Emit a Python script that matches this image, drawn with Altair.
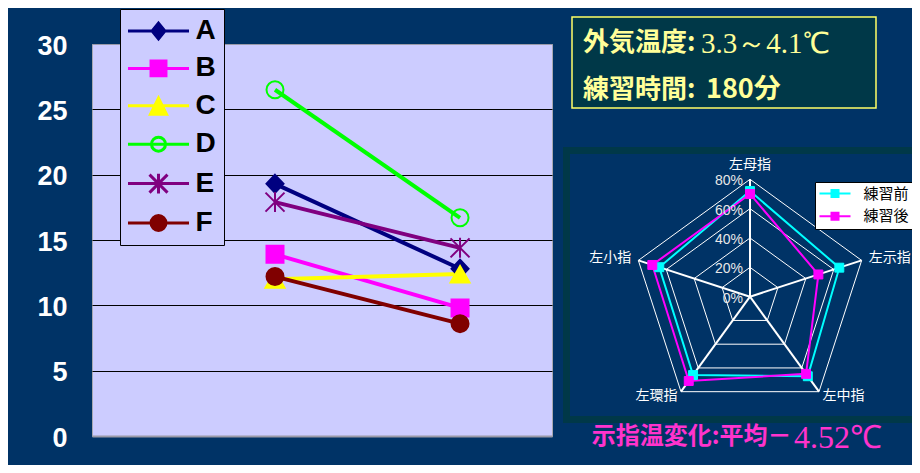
import altair as alt
import pandas as pd

# ---------------- data: line chart ----------------
series = ["A", "B", "C", "D", "E", "F"]
stages = ["練習前", "練習後"]
temp_before = [19.3, 13.9, 12.0, 26.5, 17.9, 12.2]
temp_after = [12.8, 9.8, 12.4, 16.7, 14.4, 8.6]
y_ticks = [0, 5, 10, 15, 20, 25, 30]

series_colors = ["#000080", "#FF00FF", "#FFFF00", "#00FF00", "#800080", "#800000"]
series_fills = ["#000080", "#FF00FF", "#FFFF00", "transparent", "transparent", "#800000"]

# ---------------- data: radar chart ----------------
fingers = ["左母指", "左示指", "左中指", "左環指", "左小指"]
radar_series = ["練習前", "練習後"]
ratio_before = [72, 64, 67, 66, 65]
ratio_after = [70, 49, 65, 71, 70]
radar_ticks = [0, 20, 40, 60, 80]
radar_colors = ["#00FFFF", "#FF00FF"]

# ---------------- texts ----------------
info_label_1 = "外気温度:"
info_value_1 = "3.3～4.1℃"
info_label_2 = "練習時間:"
info_value_2 = "180分"
result_label = "示指温変化:平均－"
result_value = "4.52℃"

NAVY = "#003366"
TEAL = "#003848"
CJK = "Noto Sans CJK JP"


def circ(cx, r):
    return f"M{cx + r},0 A{r},{r} 0 1 1 {cx - r},0 A{r},{r} 0 1 1 {cx + r},0 Z"


plot_paths = [
    "M0,-0.9L0.85,0L0,0.9L-0.85,0Z",
    "M-0.85,-0.85H0.85V0.85H-0.85Z",
    "M0,-0.8L0.95,0.85H-0.95Z",
    circ(0, 0.85),
    "M0,-1V1M-0.95,-0.95L0.95,0.95M-0.95,0.95L0.95,-0.95",
    circ(0, 0.85),
]
L = "M-3.39,0H3.39"
legend_paths = [
    L + "M0,-0.88L0.71,0L0,0.88L-0.71,0Z",
    L + "M-0.83,-0.83H0.83V0.83H-0.83Z",
    L + "M0,-0.85L0.89,0.95H-0.89Z",
    L + circ(0, 0.78),
    L + "M0,-1.1V1.1M-1,-1L1,1M-1,1L1,-1",
    L + circ(0, 0.83),
]

# ---------------- tables ----------------
rows = []
for s, b, a in zip(series, temp_before, temp_after):
    rows.append({"series": s, "stage": stages[0], "o": 0, "value": b})
    rows.append({"series": s, "stage": stages[1], "o": 1, "value": a})
line_df = pd.DataFrame(rows)

rrows = []
for s, vals in zip(radar_series, [ratio_before, ratio_after]):
    for k in range(6):
        rrows.append({"series": s, "k": k, "v": vals[k % 5]})
radar_df = pd.DataFrame(rrows)

ring_rows = []
for lv in radar_ticks[1:]:
    for k in range(6):
        ring_rows.append({"level": lv, "k": k})
ring_df = pd.DataFrame(ring_rows)
spoke_df = pd.DataFrame({"k": list(range(5)), "v": [radar_ticks[-1]] * 5})
tick_df = pd.DataFrame({"v": radar_ticks})
cat_df = pd.DataFrame({"finger": fingers, "k": list(range(5))})

# ---------------- line chart ----------------
xs = alt.X("o:Q", scale=alt.Scale(domain=[-0.989, 1.497], nice=False, zero=False), axis=None)
ys_axis = alt.Y(
    "value:Q",
    scale=alt.Scale(domain=[0, 30], nice=False),
    axis=alt.Axis(
        values=y_ticks, ticks=False, domain=False, title=None,
        labelColor="white", labelFont="Liberation Sans", labelFontWeight="bold",
        labelFontSize=27, labelPadding=25, labelOffset=2,
        gridColor={"condition": {"test": "datum.value === 0 || datum.value === 30", "value": "#9A9AA8"}, "value": "black"},
        gridWidth={"condition": {"test": "datum.value === 0", "value": 2}, "value": 1},
    ),
)
ys = alt.Y("value:Q", scale=alt.Scale(domain=[0, 30], nice=False), axis=None)

lines = alt.Chart(line_df).mark_line(strokeWidth=4).encode(
    x=xs, y=ys_axis,
    color=alt.Color("series:N", scale=alt.Scale(domain=series, range=series_colors), legend=None),
    order="o:Q",
)
points = alt.Chart(line_df).mark_point(size=400, strokeWidth=2, opacity=1).encode(
    x=xs, y=ys,
    shape=alt.Shape("series:N", scale=alt.Scale(domain=series, range=plot_paths), legend=None),
    stroke=alt.Stroke("series:N", scale=alt.Scale(domain=series, range=series_colors), legend=None),
    fill=alt.Fill("series:N", scale=alt.Scale(domain=series, range=series_fills), legend=None),
)

leg = alt.Legend(
    title=None, orient="none", legendX=28, legendY=-35,
    symbolSize=324, symbolStrokeWidth=3, symbolOffset=16.5, labelOffset=23,
    labelFont="Liberation Sans", labelFontSize=28, labelFontWeight="bold", labelColor="black",
    rowPadding=9.4, padding=8, fillColor="#CCCCFF", strokeColor="black",
)
legend_layer = alt.Chart(line_df).transform_calculate(key="datum.series").transform_filter("false").mark_point(
    opacity=1, strokeWidth=3
).encode(
    shape=alt.Shape("key:N", scale=alt.Scale(domain=series, range=legend_paths), legend=leg),
    stroke=alt.Stroke("key:N", scale=alt.Scale(domain=series, range=series_colors), legend=leg),
    fill=alt.Fill("key:N", scale=alt.Scale(domain=series, range=series_fills), legend=leg),
)

# ---------------- radar chart ----------------
rx = alt.Scale(domain=[-80, 80], range=[540.6, 775.4], nice=False, zero=False)
ry = alt.Scale(domain=[-80, 80], range=[370.1, 135.3], nice=False, zero=False)
RX = alt.X("px:Q", scale=rx, axis=None)
RY = alt.Y("py:Q", scale=ry, axis=None)

frame = alt.Chart(pd.DataFrame({"a": [0]})).mark_rect(fill=None, stroke=TEAL, strokeWidth=7).encode(
    x=alt.value(474.5), x2=alt.value(840), y=alt.value(106.5), y2=alt.value(375.5)
)

rings = alt.Chart(ring_df).transform_calculate(
    px="datum.level*sin(datum.k*2*PI/5)", py="datum.level*cos(datum.k*2*PI/5)"
).mark_line(color="white", strokeWidth=1).encode(x=RX, y=RY, detail="level:N", order="k:Q")

spokes = alt.Chart(spoke_df).transform_calculate(
    px="datum.v*sin(datum.k*2*PI/5)", py="datum.v*cos(datum.k*2*PI/5)", z="0"
).mark_rule(color="white", strokeWidth=2).encode(x=RX, y=RY, x2=alt.X2("z:Q"), y2=alt.Y2("z:Q"))

radar_base = alt.Chart(radar_df).transform_calculate(
    px="datum.v*sin(datum.k*2*PI/5)", py="datum.v*cos(datum.k*2*PI/5)"
)
radar_lines = radar_base.mark_line(strokeWidth=2).encode(
    x=RX, y=RY,
    stroke=alt.Stroke("series:N", scale=alt.Scale(domain=radar_series, range=radar_colors), legend=None),
    order="k:Q",
)
rleg = alt.Legend(
    title=None, orient="none", legendX=723, legendY=138,
    symbolType="M-3.1,0H3.1M-0.7,-0.7H0.7V0.7H-0.7Z", symbolSize=100, symbolStrokeWidth=2,
    symbolOffset=8.5, labelOffset=21, labelFont=CJK, labelFontSize=15, labelColor="black",
    rowPadding=6.7, padding=4, fillColor="white", strokeColor="black",
)
radar_points = radar_base.transform_filter("datum.k < 5").mark_point(
    shape="square", size=80, strokeWidth=1, opacity=1, filled=True
).encode(
    x=RX, y=RY,
    fill=alt.Fill("series:N", scale=alt.Scale(domain=radar_series, range=radar_colors), legend=rleg),
    stroke=alt.Stroke("series:N", scale=alt.Scale(domain=radar_series, range=radar_colors), legend=rleg),
)

tick_labels = alt.Chart(tick_df).transform_calculate(
    px="0", py="datum.v", t="datum.v + '%'"
).mark_text(align="right", baseline="middle", dx=-7, dy=2, font="Liberation Sans", fontSize=14, color="#E8E8E8").encode(
    x=RX, y=RY, text="t:N"
)

cat_base = alt.Chart(cat_df).transform_calculate(
    lr="datum.k == 0 ? 80 : ((datum.k == 2 || datum.k == 3) ? 84 : 85)",
    px="datum.lr*sin(datum.k*2*PI/5)", py="datum.lr*cos(datum.k*2*PI/5)",
)
cat_style = dict(baseline="middle", font=CJK, fontSize=14, color="white")
cat_top = cat_base.transform_filter("datum.k == 0").mark_text(align="center", dy=-14, **cat_style).encode(
    x=RX, y=RY, text="finger:N")
cat_right = cat_base.transform_filter("datum.k == 1 || datum.k == 2").mark_text(align="left", **cat_style).encode(
    x=RX, y=RY, text="finger:N")
cat_left = cat_base.transform_filter("datum.k == 3 || datum.k == 4").mark_text(align="right", **cat_style).encode(
    x=RX, y=RY, text="finger:N")

# ---------------- annotations ----------------
def label(text, x, y, **kw):
    return alt.Chart(pd.DataFrame({"t": [text]})).mark_text(align="left", baseline="middle", **kw).encode(
        text="t:N", x=alt.value(x), y=alt.value(y))


info_box = alt.Chart(pd.DataFrame({"a": [0]})).mark_rect(fill=TEAL, stroke="#FFFF66", strokeWidth=1.5).encode(
    x=alt.value(480), x2=alt.value(784), y=alt.value(-27), y2=alt.value(64)
)
t1a = label(info_label_1, 491, -1, font=CJK, fontSize=26, fontWeight="bold", color="#FFFF99")
t1b = label(info_value_1, 609, 0, font="Liberation Serif", fontSize=29, color="#FFFF99")
t2a = label(info_label_2, 491, 46, font=CJK, fontSize=26, fontWeight="bold", color="#FFFF99")
t2b = label(info_value_2, 614, 46, font=CJK, fontSize=27, fontWeight="bold", color="#FFFF99")
r1 = label(result_label, 499.7, 393, font=CJK, fontSize=24, fontWeight="bold", color="#FF33CC")
r2 = label(result_value, 702, 394, font="Liberation Serif", fontSize=32, color="#FF33CC")

chart = alt.layer(
    frame, info_box, t1a, t1b, t2a, t2b,
    lines, points, legend_layer,
    rings, spokes, radar_lines, radar_points, tick_labels, cat_top, cat_right, cat_left,
    r1, r2,
).resolve_scale(
    x="independent", y="independent", color="independent", stroke="independent",
    fill="independent", shape="independent",
).properties(
    width=460, height=392,
    padding={"left": 84, "top": 36, "right": 360, "bottom": 29},
    autosize=alt.AutoSizeParams(type="none"),
    view=alt.ViewBackground(fill="#CCCCFF", stroke="#A8A8B0", strokeWidth=1),
).configure(background=NAVY).configure_view(fill="#CCCCFF", stroke="#A8A8B0", strokeWidth=1)

chart.save("out.html", embed_options={"renderer": "svg", "actions": False})
